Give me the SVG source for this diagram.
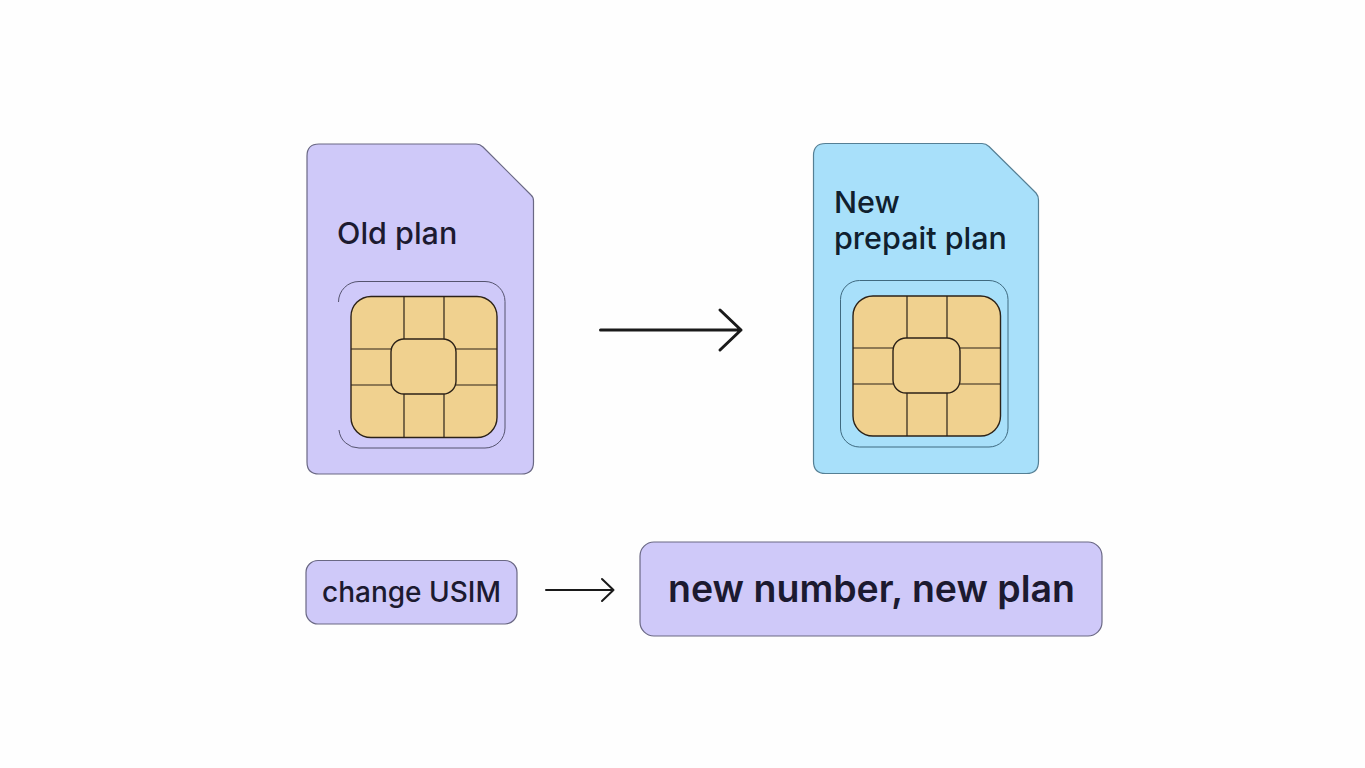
<svg xmlns="http://www.w3.org/2000/svg" width="1365" height="768" viewBox="0 0 1365 768">
<style>
text{font-family:Inter,"Liberation Sans",sans-serif;fill:#1c1a30;font-weight:500}
.card{stroke:#6a6884;stroke-width:1.2}
.purple{fill:#cfc9f9}
.blue{fill:#a8e0fa}
.chip{fill:#f0d18f;stroke:#2c2218;stroke-width:1.4}
.cl{fill:none;stroke:#2c2218;stroke-width:1.2}
.ol{fill:none;stroke:#55536f;stroke-width:1}
.arrow{fill:none;stroke:#1a1a1a;stroke-linecap:round;stroke-linejoin:round}
</style>
<rect width="1365" height="768" fill="#fefefe"/>
<g id="old-sim">
<path class="card purple" d="M319 144H476Q480 144 483 147L531 195Q533.500 197 533.500 201V462Q533.500 474 521.500 474H319Q307 474 307 462V156Q307 144 319 144Z"/>
<text x="337" y="244" font-size="30.500">Old plan</text>
<path class="ol" d="M338.500 302A20.500 20.500 0 0 1 359 281.500H485A20 20 0 0 1 505 301.500V428A20 20 0 0 1 485 448H359A20 20 0 0 1 339 430"/>
<rect class="chip" x="351" y="296.500" width="146" height="141" rx="20"/>
<path class="cl" d="M404 296.500V339M444 296.500V339M404 394V437.500M444 394V437.500M351 349H391M351 385H391M456 349H497M456 385H497"/>
<rect class="chip" x="391" y="339" width="65" height="55" rx="13"/>
</g>
<g id="new-sim">
<path class="card blue" d="M825.500 143.500H982Q986 143.500 989 146.500L1036 193Q1038.500 196 1038.500 200V461.500Q1038.500 473.500 1026.500 473.500H825.500Q813.500 473.500 813.500 461.500V155.500Q813.500 143.500 825.500 143.500Z" style="stroke:#557f94"/>
<text x="834" y="213" font-size="30.500" style="fill:#10202e">New</text>
<text x="834" y="249" font-size="30.500" style="fill:#10202e">prepait plan</text>
<rect class="ol" x="840.500" y="280.500" width="167.500" height="166.500" rx="19" style="stroke:#3f6a80"/>
<rect class="chip" x="853" y="296" width="147.500" height="140" rx="20"/>
<path class="cl" d="M907 296V338M947 296V338M907 393V436M947 393V436M853 348H893M853 384H893M960 348H1000.500M960 384H1000.500"/>
<rect class="chip" x="893" y="338" width="67" height="55" rx="13"/>
</g>
<g id="change-usim">
<rect class="card purple" x="306" y="560.500" width="211" height="63.500" rx="12"/>
<text x="322" y="601.500" font-size="28">change USIM</text>
</g>
<g id="new-number">
<rect class="card purple" x="640" y="542" width="462" height="94" rx="14"/>
<text x="668" y="601.500" font-size="37.500" style="font-weight:600">new number, new plan</text>
</g>
<g id="connectors">
<path class="arrow" stroke-width="3" d="M600.500 330H741M720 310L741 330L720 350"/>
<path class="arrow" stroke-width="2" d="M546 590H613.500M602 579L613.500 590L602 601"/>
</g>
</svg>
